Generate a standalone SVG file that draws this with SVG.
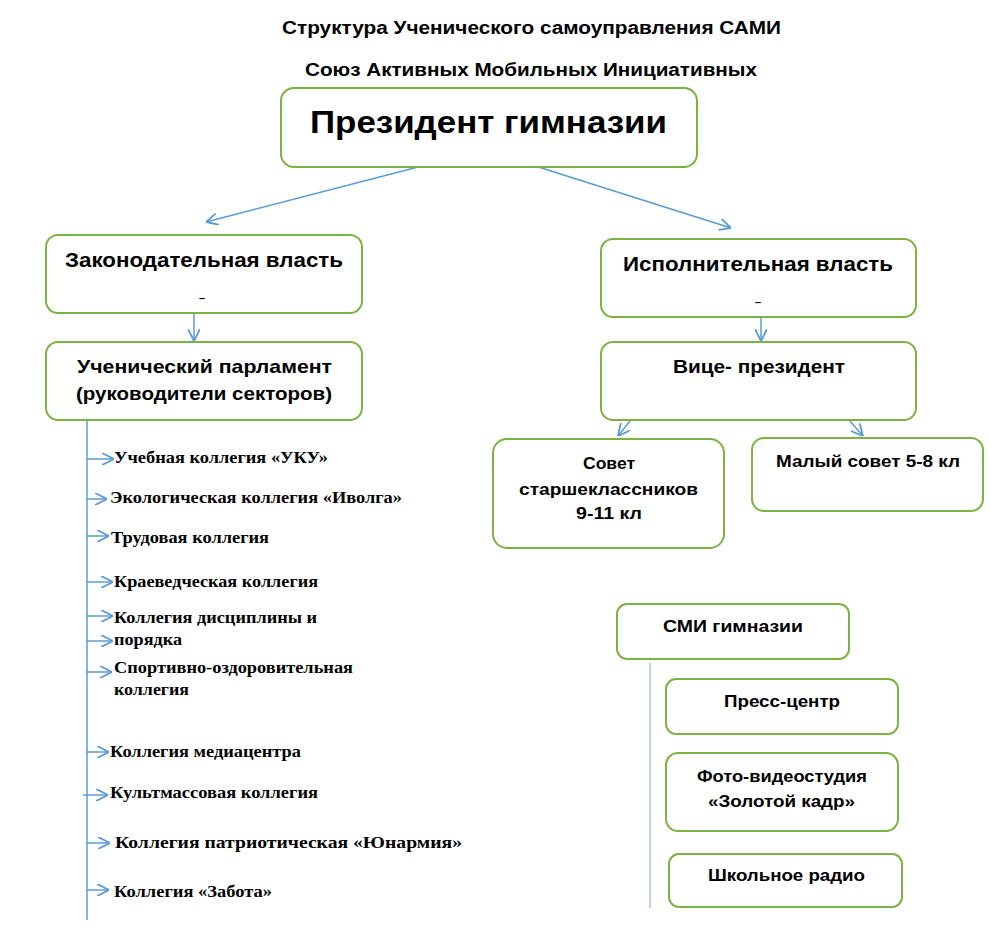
<svg xmlns="http://www.w3.org/2000/svg" width="991" height="928" viewBox="0 0 991 928">
<defs>
<marker id="arr" markerWidth="12" markerHeight="12" refX="10" refY="5" orient="auto" markerUnits="userSpaceOnUse" viewBox="0 0 10 10">
<path d="M0,0 L10,5 L0,10" fill="none" stroke="#5b9bd5" stroke-width="1.5"/>
</marker>
</defs>
<style>
.box{fill:#fff;stroke:#7cb342;stroke-width:2}
.s{font-family:"Liberation Sans",Arial,sans-serif;font-weight:bold;fill:#000}
.t{font-family:"Liberation Serif","Times New Roman",serif;font-weight:bold;fill:#000;font-size:17px}
.c{stroke:#5b9bd5;stroke-width:1.5;fill:none}
.ca{stroke:#5b9bd5;stroke-width:1.5;fill:none;marker-end:url(#arr)}
</style>
<rect width="991" height="928" fill="#fff"/>
<g id="title">
<text class="s" x="282" y="34" font-size="18" textLength="499" lengthAdjust="spacingAndGlyphs">Структура Ученического самоуправления САМИ</text>
<text class="s" x="305" y="76" font-size="18" textLength="452" lengthAdjust="spacingAndGlyphs">Союз Активных Мобильных Инициативных</text>
</g>
<g id="connectors">
<line class="ca" x1="422" y1="166" x2="206" y2="222"/>
<line class="ca" x1="532" y1="165" x2="731" y2="228"/>
<line class="ca" x1="194" y1="313" x2="194" y2="341"/>
<line class="ca" x1="761" y1="313" x2="761" y2="341"/>
<line class="ca" x1="630" y1="421" x2="618" y2="436"/>
<line class="ca" x1="850" y1="421" x2="863" y2="436"/>
<line class="c" x1="87" y1="420" x2="87" y2="920"/>
<line class="ca" x1="87" y1="459" x2="114" y2="459"/>
<line class="ca" x1="87" y1="499" x2="107" y2="499"/>
<line class="ca" x1="87" y1="536" x2="109" y2="536"/>
<line class="ca" x1="87" y1="582" x2="113" y2="582"/>
<line class="ca" x1="87" y1="616" x2="113" y2="616"/>
<line class="ca" x1="87" y1="641" x2="113" y2="641"/>
<line class="ca" x1="87" y1="672" x2="112" y2="672"/>
<line class="ca" x1="87" y1="752" x2="109" y2="752"/>
<line class="ca" x1="83" y1="795" x2="108" y2="795"/>
<line class="ca" x1="87" y1="843" x2="110" y2="843"/>
<line class="ca" x1="87" y1="890" x2="109" y2="890"/>
<line x1="650" y1="663" x2="650" y2="908" stroke="#a9c4e0" stroke-width="1.5"/>
</g>
<g id="president">
<rect class="box" x="281" y="88" width="416" height="79" rx="13"/>
<text class="s" x="310" y="133" font-size="32" textLength="357" lengthAdjust="spacingAndGlyphs">Президент гимназии</text>
</g>
<g id="legislative">
<rect class="box" x="46" y="235" width="316" height="78" rx="12"/>
<text class="s" x="65" y="267" font-size="20" textLength="278" lengthAdjust="spacingAndGlyphs">Законодательная власть</text>
<text class="s" x="199" y="302" font-size="11">–</text>
</g>
<g id="parliament">
<rect class="box" x="46" y="342" width="316" height="78" rx="12"/>
<text class="s" x="77" y="373" font-size="19" textLength="255" lengthAdjust="spacingAndGlyphs">Ученический парламент</text>
<text class="s" x="76" y="400" font-size="19" textLength="256" lengthAdjust="spacingAndGlyphs">(руководители секторов)</text>
</g>
<g id="executive">
<rect class="box" x="601" y="239" width="315" height="78" rx="12"/>
<text class="s" x="623" y="271" font-size="20" textLength="270" lengthAdjust="spacingAndGlyphs">Исполнительная власть</text>
<text class="s" x="755" y="306" font-size="11">–</text>
</g>
<g id="vice">
<rect class="box" x="601" y="342" width="315" height="78" rx="12"/>
<text class="s" x="673" y="373" font-size="19" textLength="172" lengthAdjust="spacingAndGlyphs">Вице- президент</text>
</g>
<g id="senior">
<rect class="box" x="493" y="439" width="231" height="109" rx="14"/>
<text class="s" x="583" y="469" font-size="17" textLength="52" lengthAdjust="spacingAndGlyphs">Совет</text>
<text class="s" x="519" y="495" font-size="17" textLength="179" lengthAdjust="spacingAndGlyphs">старшеклассников</text>
<text class="s" x="576" y="519" font-size="17" textLength="66" lengthAdjust="spacingAndGlyphs">9-11 кл</text>
</g>
<g id="junior">
<rect class="box" x="752" y="438" width="231" height="73" rx="12"/>
<text class="s" x="776" y="467" font-size="17" textLength="184" lengthAdjust="spacingAndGlyphs">Малый совет 5-8 кл</text>
</g>
<g id="colleges">
<text class="t" x="114" y="463" textLength="214" lengthAdjust="spacingAndGlyphs">Учебная коллегия «УКУ»</text>
<text class="t" x="110" y="503" textLength="292" lengthAdjust="spacingAndGlyphs">Экологическая коллегия «Иволга»</text>
<text class="t" x="111" y="543" textLength="158" lengthAdjust="spacingAndGlyphs">Трудовая коллегия</text>
<text class="t" x="114" y="587" textLength="204" lengthAdjust="spacingAndGlyphs">Краеведческая коллегия</text>
<text class="t" x="114" y="623" textLength="203" lengthAdjust="spacingAndGlyphs">Коллегия дисциплины и</text>
<text class="t" x="114" y="645" textLength="68" lengthAdjust="spacingAndGlyphs">порядка</text>
<text class="t" x="114" y="673" textLength="239" lengthAdjust="spacingAndGlyphs">Спортивно-оздоровительная</text>
<text class="t" x="114" y="695" textLength="75" lengthAdjust="spacingAndGlyphs">коллегия</text>
<text class="t" x="110" y="757" textLength="191" lengthAdjust="spacingAndGlyphs">Коллегия медиацентра</text>
<text class="t" x="110" y="798" textLength="208" lengthAdjust="spacingAndGlyphs">Культмассовая коллегия</text>
<text class="t" x="115" y="848" textLength="347" lengthAdjust="spacingAndGlyphs">Коллегия патриотическая «Юнармия»</text>
<text class="t" x="114" y="897" textLength="158" lengthAdjust="spacingAndGlyphs">Коллегия «Забота»</text>
</g>
<g id="media">
<rect class="box" x="617" y="604" width="232" height="55" rx="10"/>
<text class="s" x="663" y="632" font-size="16" textLength="140" lengthAdjust="spacingAndGlyphs">СМИ гимназии</text>
</g>
<g id="press">
<rect class="box" x="666" y="679" width="232" height="55" rx="10"/>
<text class="s" x="724" y="707" font-size="16" textLength="116" lengthAdjust="spacingAndGlyphs">Пресс-центр</text>
</g>
<g id="photo">
<rect class="box" x="666" y="753" width="232" height="78" rx="12"/>
<text class="s" x="697" y="782" font-size="16" textLength="170" lengthAdjust="spacingAndGlyphs">Фото-видеостудия</text>
<text class="s" x="708" y="807" font-size="16" textLength="147" lengthAdjust="spacingAndGlyphs">«Золотой кадр»</text>
</g>
<g id="radio">
<rect class="box" x="669" y="854" width="233" height="53" rx="10"/>
<text class="s" x="708" y="881" font-size="16" textLength="157" lengthAdjust="spacingAndGlyphs">Школьное радио</text>
</g>
</svg>
